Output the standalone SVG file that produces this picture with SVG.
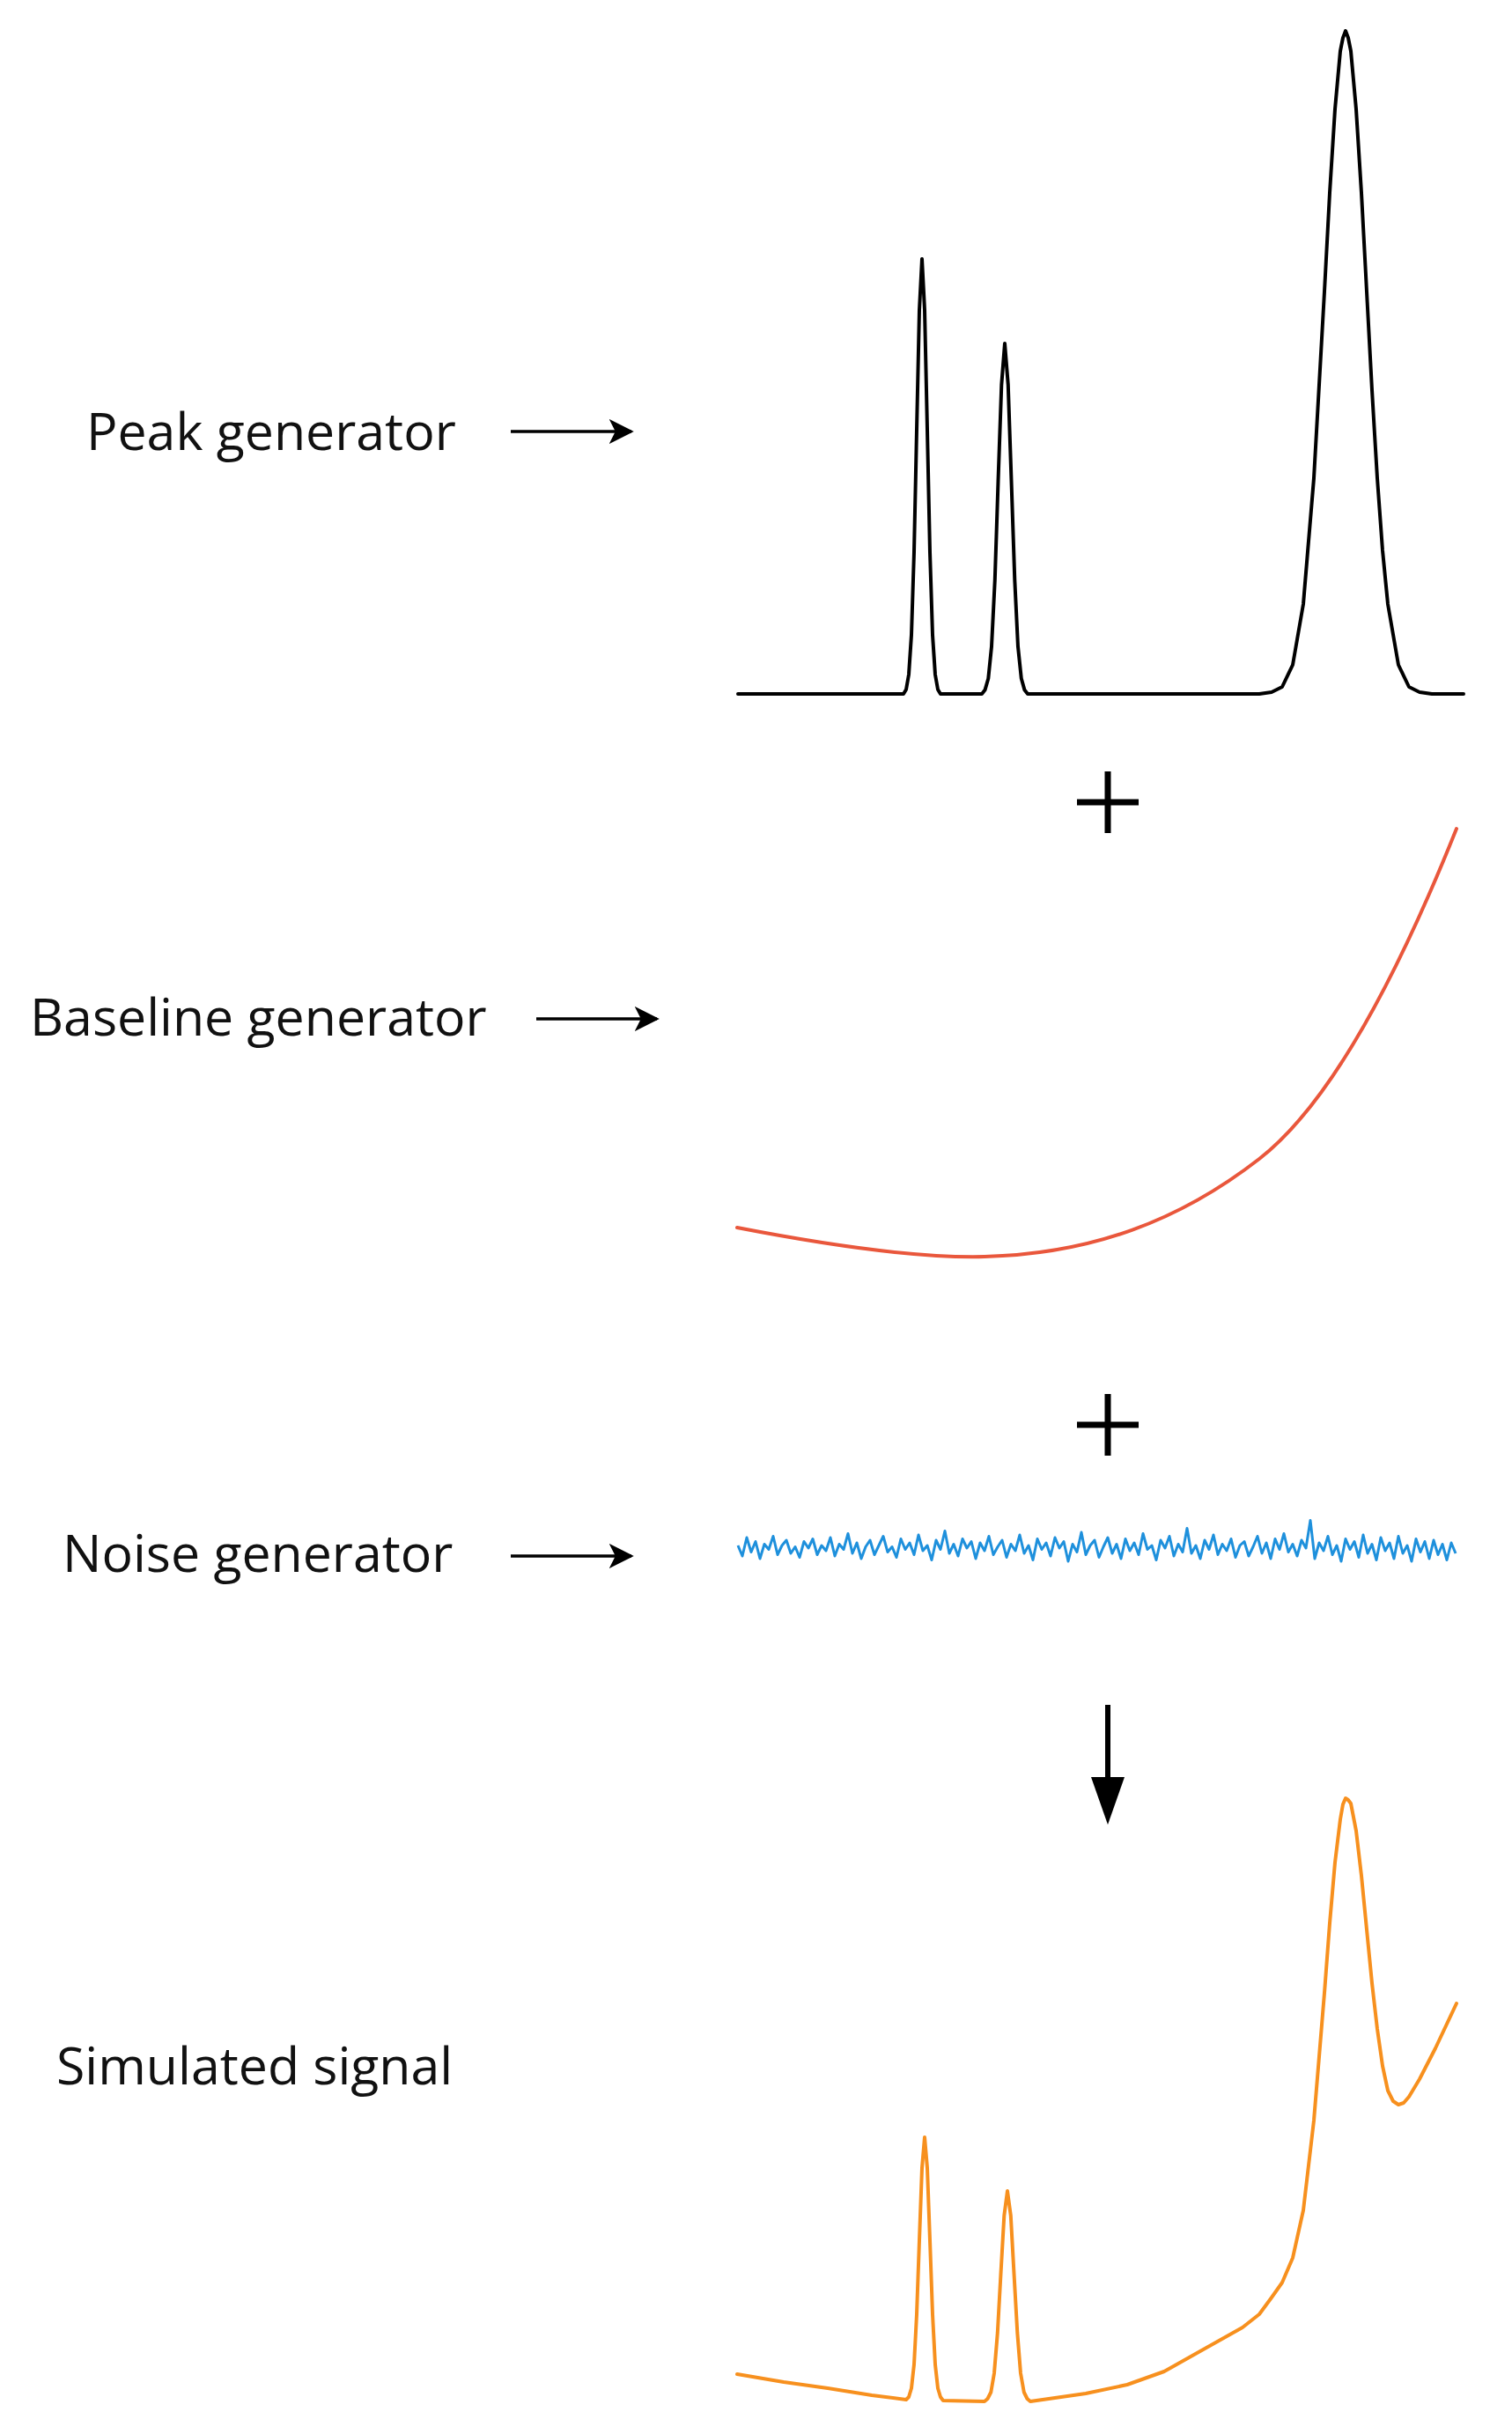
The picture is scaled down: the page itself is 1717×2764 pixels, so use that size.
<svg xmlns="http://www.w3.org/2000/svg" width="1717" height="2764" viewBox="0 0 1717 2764">
<defs>
<style>
.lbl{font-family:"Open Sans","Liberation Sans",sans-serif;font-size:59px;fill:#111}
.ar{stroke:#000;stroke-width:3.5;fill:none}
.sig{fill:none;stroke-width:4;stroke-linejoin:round;stroke-linecap:round}
</style>
<marker id="ah" viewBox="0 0 10 10" refX="9" refY="5" markerWidth="8" markerHeight="8" markerUnits="strokeWidth" orient="auto"><path d="M0,0 L10,5 L0,10 L2.5,5 Z" fill="#000"/></marker>
</defs>
<rect width="1717" height="2764" fill="#fff"/>
<g id="peak-gen"><text class="lbl" x="98" y="511">Peak generator</text></g>
<g id="base-gen"><text class="lbl" x="34" y="1176">Baseline generator</text></g>
<g id="noise-gen"><text class="lbl" x="71" y="1785">Noise generator</text></g>
<g id="sim"><text class="lbl" x="64" y="2367">Simulated signal</text></g>
<g transform="translate(-10,-4)">
<g id="peaks"><polyline class="sig" stroke="#000" points="848,792 1036,792 1039,787 1042,770 1045,725 1048,631 1051,492 1054,356 1057,298 1060,356 1063,492 1066,631 1069,725 1072,770 1075,787 1078,792 1125,792 1128.5,787.6 1132.3,774.5 1136,738.3 1139.8,662.6 1143.5,550.4 1147.3,441 1151,394 1154.8,441 1158.5,550.4 1162.3,662.6 1166,738.3 1169.8,774.5 1173.5,787.6 1177,792 1440,792 1454,790 1466,784 1478,759 1490,690 1502,547 1514,335 1520,223 1526,128 1532,62 1535,47 1538,39 1541,47 1544,62 1550,128 1556,223 1562,335 1568,447 1574,547 1580,629 1586,690 1598,759 1610,784 1622,790 1636,792 1672,792"/></g>
<g id="baseline"><path class="sig" stroke="#e9573c" d="M847,1398 C950,1418 1050,1433 1128,1431 C1250,1428 1350,1390 1440,1320 C1530,1250 1610,1080 1664,945"/></g>
<g id="noise"><polyline transform="translate(0,-881) scale(1,1.5)" vector-effect="non-scaling-stroke" fill="none" stroke="#1e90dc" stroke-width="3" stroke-linejoin="round" points="848,1760 853,1768 858,1754 863,1765 868,1757 873,1770 878,1759 883,1763 888,1753 893,1767 898,1760 903,1756 908,1766 913,1761 918,1769 923,1757 928,1762 933,1755 938,1767 943,1760 948,1764 953,1754 958,1768 963,1759 968,1763 973,1751 978,1766 983,1758 988,1770 993,1761 998,1756 1003,1767 1008,1760 1013,1753 1018,1765 1023,1761 1028,1769 1033,1755 1038,1763 1043,1758 1048,1767 1053,1752 1058,1764 1063,1760 1068,1771 1073,1756 1078,1763 1083,1749 1088,1766 1093,1759 1098,1768 1103,1755 1108,1762 1113,1757 1118,1770 1123,1758 1128,1764 1133,1753 1138,1767 1143,1761 1148,1756 1153,1769 1158,1759 1163,1764 1168,1752 1173,1766 1178,1760 1183,1771 1188,1755 1193,1763 1198,1758 1203,1768 1208,1754 1213,1762 1218,1757 1223,1772 1228,1759 1233,1765 1238,1750 1243,1767 1248,1760 1253,1756 1258,1769 1263,1761 1268,1754 1273,1766 1278,1759 1283,1770 1288,1755 1293,1764 1298,1758 1303,1767 1308,1751 1313,1763 1318,1760 1323,1771 1328,1756 1333,1762 1338,1753 1343,1768 1348,1759 1353,1765 1358,1747 1363,1766 1368,1760 1373,1770 1378,1756 1383,1763 1388,1752 1393,1767 1398,1759 1403,1764 1408,1755 1413,1769 1418,1760 1423,1757 1428,1768 1433,1761 1438,1753 1443,1766 1448,1758 1453,1770 1458,1755 1463,1763 1468,1751 1473,1765 1478,1759 1483,1768 1488,1756 1493,1762 1498,1741 1503,1770 1508,1758 1513,1764 1518,1753 1523,1767 1528,1760 1533,1772 1538,1755 1543,1763 1548,1757 1553,1769 1558,1752 1563,1766 1568,1759 1573,1771 1578,1754 1583,1764 1588,1758 1593,1770 1598,1753 1603,1766 1608,1760 1613,1772 1618,1755 1623,1765 1628,1757 1633,1770 1638,1756 1643,1767 1648,1759 1653,1771 1658,1758 1663,1766"/></g>
<g id="simulated"><polyline class="sig" stroke="#f7901e" points="847,2700 900,2709 950,2716 1000,2724 1039,2729 1042,2726 1045,2716 1048,2689 1051,2632 1054,2548 1057,2466 1060,2431 1063,2466 1066,2548 1069,2632 1072,2689 1075,2716 1078,2726 1081,2730 1128,2731 1131.5,2728 1135.3,2720.5 1139,2699 1142.8,2653 1146.5,2586 1150.3,2520 1154,2492 1157.8,2520 1161.5,2586 1165.3,2653 1169,2699 1172.8,2720.5 1176.5,2728 1180,2731 1243,2722 1290,2712 1332,2697 1380,2670 1421,2647 1440,2632 1454,2613 1466,2596 1478,2568 1490,2514 1502,2412 1514,2267 1520,2188 1526,2119 1532,2070 1535,2053 1538,2046 1541,2048 1544,2052 1550,2083 1556,2134 1562,2195 1568,2256 1574,2308 1580,2350 1586,2378 1592,2390 1598,2394 1604,2392 1610,2385 1622,2365 1640,2330 1664,2279"/></g>
</g>
<g id="connectors">
<line class="ar" x1="580" y1="490" x2="717" y2="490" marker-end="url(#ah)"/>
<line class="ar" x1="609" y1="1157" x2="746" y2="1157" marker-end="url(#ah)"/>
<line class="ar" x1="580" y1="1767" x2="717" y2="1767" marker-end="url(#ah)"/>
<line x1="1258" y1="1936" x2="1258" y2="2030" stroke="#000" stroke-width="6"/>
<polygon points="1239,2018 1277,2018 1258,2072" fill="#000"/>
<path d="M1223,911 H1293 M1258,876 V946" stroke="#000" stroke-width="7"/>
<path d="M1223,1618 H1293 M1258,1583 V1653" stroke="#000" stroke-width="7"/>
</g>
</svg>
